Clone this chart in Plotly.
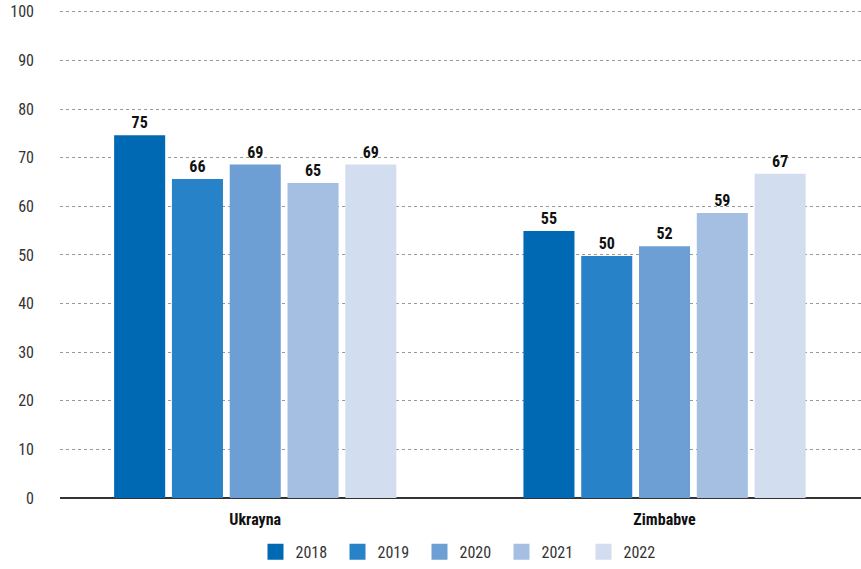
import plotly.graph_objects as go

categories = ["Ukrayna", "Zimbabve"]
years = ["2018", "2019", "2020", "2021", "2022"]
values = {
    "2018": [74.6, 54.9],
    "2019": [65.6, 49.8],
    "2020": [68.6, 51.8],
    "2021": [64.8, 58.6],
    "2022": [68.6, 66.7],
}
colors = ["#0069b4", "#2882c8", "#6e9fd4", "#a5bfe3", "#d2ddf0"]
yticks = [0, 10, 20, 30, 40, 50, 60, 70, 80, 90, 100]

FONT = "Roboto Condensed, DejaVu Sans Condensed, Liberation Sans Narrow, Roboto, sans-serif"

fig = go.Figure()
for yr, col in zip(years, colors):
    fig.add_trace(go.Bar(
        x=categories, y=values[yr], name=yr,
        marker=dict(color=col, line=dict(width=0)),
        texttemplate="%{y:.0f}", textposition="outside",
        textfont=dict(family=FONT, size=16, color="#111111", weight="bold"),
        cliponaxis=False, showlegend=False,
    ))
# legend entries with larger square swatches
for yr, col in zip(years, colors):
    fig.add_trace(go.Scatter(
        x=[None], y=[None], mode="markers", name=yr,
        marker=dict(symbol="square", size=17, color=col),
        showlegend=True,
    ))

fig.update_layout(
    width=861, height=569,
    margin=dict(l=60, r=0, t=7, b=71),
    plot_bgcolor="white", paper_bgcolor="white",
    barmode="group", bargap=0.294, bargroupgap=0.117,
    font=dict(family=FONT, size=16, color="#333333"),
    showlegend=True,
    legend=dict(orientation="h", x=0.5, xanchor="center", y=-0.075, yanchor="top",
                font=dict(size=16, color="#333333"), traceorder="normal",
                itemwidth=30, entrywidth=37, entrywidthmode="pixels",
                itemsizing="trace"),
    xaxis=dict(tickfont=dict(size=16, color="#111111", weight="bold"),
               showline=False, ticks="", showgrid=False, automargin=False,
               range=[-0.477, 1.48], ticklabelstandoff=10),
    yaxis=dict(range=[0, 101], tickvals=yticks, showgrid=True,
               gridcolor="#999999", griddash="dot", gridwidth=1,
               zeroline=True, zerolinecolor="#333333", zerolinewidth=2,
               ticks="", tickfont=dict(size=16, color="#333333"),
               ticklabelstandoff=25, automargin=False,
               ticklabeloverflow="allow"),
)

fig.write_html("out.html", config={"displayModeBar": False},
               post_script="document.body.style.margin='0px';document.body.style.overflow='hidden';")
